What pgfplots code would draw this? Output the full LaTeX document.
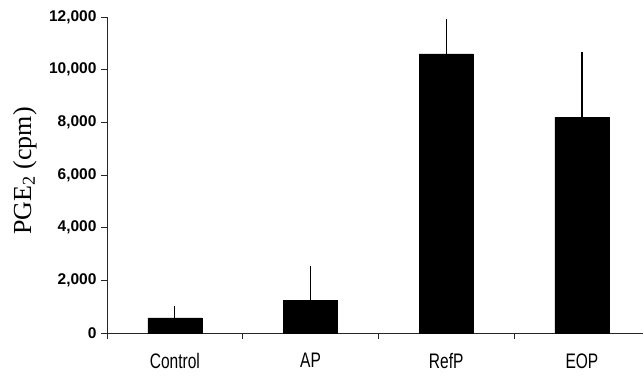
\documentclass[border=0pt]{standalone}
\usepackage{fontspec}
\setmainfont{Liberation Serif}
\newfontfamily\tickfont{Liberation Sans}
\newfontfamily\catfont[FakeStretch=0.74]{Liberation Sans}
\usepackage{pgfplots}
\pgfplotsset{compat=1.18}
\begin{document}
\begin{tikzpicture}
\path[use as bounding box] (-107bp,-46bp) rectangle (537bp,333bp);
\begin{axis}[
  at={(0,0)}, anchor=south west,
  scale only axis, width=536bp, height=316bp,
  xmin=0.5, xmax=4.45, ymin=0, ymax=12000,
  axis x line*=bottom, axis y line*=left,
  axis line style={-, line width=0.8bp, black!85},
  every tick/.style={line width=0.8bp, black!85},
  tick align=outside, major tick length=6bp,
  ytick={0,2000,4000,6000,8000,10000,12000},
  scaled y ticks=false,
  yticklabel style={font=\tickfont\fontsize{15.5bp}{17bp}\selectfont\bfseries, /pgf/number format/1000 sep={,}, /pgf/number format/assume math mode=true, xshift=-1bp},
  xtick={0.5,1.5,2.5,3.5}, xticklabels={},
  extra x ticks={1,2,3,4},
  extra x tick labels={Control,AP,RefP,EOP},
  extra x tick style={major tick length=0pt, xticklabel style={yshift=-17bp}},
  xticklabel style={font=\catfont\fontsize{21bp}{23bp}\selectfont},
  ylabel={PGE\textsubscript{2} (cpm)},
  every axis y label/.style={at={(axis description cs:-0.153,0.513)}, rotate=90, anchor=center, font=\fontsize{26bp}{28bp}\selectfont},
  ybar, bar width=54bp,
]
\addplot[fill=black, draw=black,
  error bars/.cd, y dir=plus, y explicit, error mark=none,
  error bar style={line width=1.3bp, black}]
  coordinates {
    (1,570) +- (0,470)
    (2,1230) +- (0,1320)
    (3,10600) +- (0,1330)
    (4,8190) +- (0,2490)
  };
\end{axis}
\end{tikzpicture}
\end{document}
